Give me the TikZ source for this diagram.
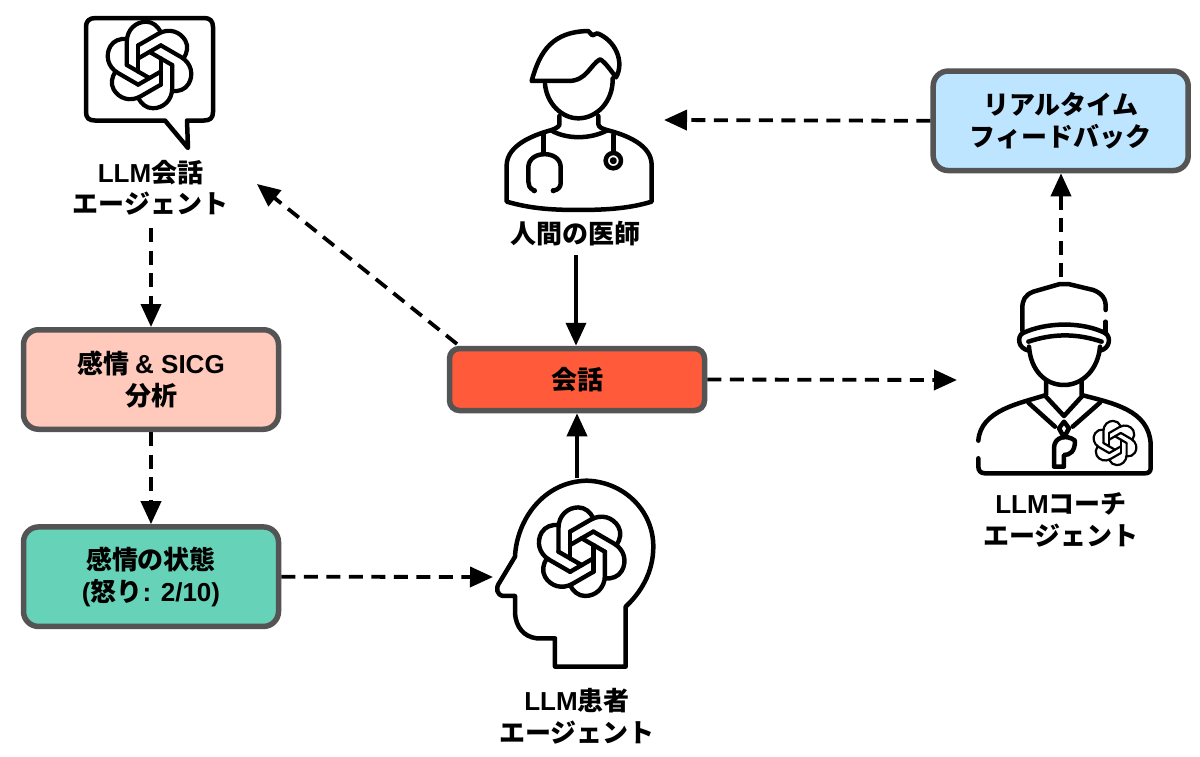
\documentclass[tikz,border=0pt]{standalone}
\usepackage{fontspec}
\setmainfont{Noto Sans CJK JP}
\newfontfamily\latfam{Liberation Sans}
\newcommand{\lt}[1]{{\latfam\bfseries #1}}
\usetikzlibrary{arrows.meta}
\definecolor{edgegray}{HTML}{545454}
\definecolor{bluebox}{HTML}{BEE5FF}
\definecolor{pinkbox}{HTML}{FFC9BC}
\definecolor{greenbox}{HTML}{66D2B7}
\definecolor{redbox}{HTML}{FF5B3B}
\tikzset{
  label text/.style={align=center,inner sep=0pt,font=\fontsize{26}{31.5}\selectfont\bfseries},
  flow box/.style={label text,draw=edgegray,line width=5.5pt,rounded corners=15pt,minimum width=255pt,minimum height=99.5pt},
  icon/.style={line width=4.5pt,line cap=round,line join=round,black},
  solid link/.style={line width=3.8pt,-{Triangle[length=23pt,width=20pt]}},
  dash link/.style={line width=3.8pt,dash pattern=on 14pt off 8.5pt,-{Triangle[length=23pt,width=20pt]}}
}
\newcommand{\knot}[4]{%
  \begin{scope}[shift={(#1,#2)},x=#3pt,y=#3pt]
  \foreach \k in {0,60,...,300}{
    \draw[line width=#4pt,line cap=round,line join=round,rotate=\k]
      (-0.54,0) -- (-0.54,0.55) .. controls (-0.54,0.85) and (-0.32,1.03) .. (-0.08,1.03)
      .. controls (0.08,1.03) and (0.2,0.92) .. (0.27,0.78);
    \draw[line width=#4pt,line cap=round,rotate=\k] (-0.27,0.468) -- (-0.27,-0.156);
  }
  \end{scope}}
\begin{document}
\begin{tikzpicture}[x=1pt,y=-1pt]
\useasboundingbox[fill=white] (0,0) rectangle (1200,756);

% speech bubble icon
\draw[icon] (96,18) -- (204,18) .. controls (210,18) and (213,21) .. (213,27) -- (213,112)
  .. controls (213,118) and (210,120.5) .. (204,120.5) -- (187,120.5) -- (188,148) -- (165,120.5) -- (95,120.5)
  .. controls (89,120.5) and (86,118) .. (86,112) -- (86,27) .. controls (86,21) and (89,18) .. (96,18) -- cycle;
\knot{149.5}{65}{42}{4.2}

% doctor icon
\begin{scope}[shift={(490,20)},x=0.3333pt,y=-0.3333pt]
\draw[icon] (125,183) .. controls (150,90) and (190,35) .. (295,33) -- (307,46) -- (322,40)
  .. controls (375,60) and (405,125) .. (378,172) .. controls (365,155) and (345,125) .. (330,118)
  .. controls (300,135) and (290,183) .. (235,183) -- cycle;
\draw[icon] (165,192) .. controls (170,250) and (215,295) .. (265,295) .. controls (320,295) and (370,245) .. (368,175);
\draw[icon] (208,288) -- (208,315) .. controls (205,322) and (195,326) .. (185,330)
  .. controls (130,345) and (52,375) .. (50,435) -- (50,545) .. controls (120,565) and (180,570) .. (265,570)
  .. controls (350,570) and (420,565) .. (485,545) -- (485,435) .. controls (485,375) and (410,345) .. (350,330)
  .. controls (335,326) and (325,320) .. (325,312) -- (325,288);
\draw[icon] (185,332) .. controls (230,358) and (300,358) .. (350,332);
\draw[icon] (160,342) -- (160,402);
\draw[icon] (133,512) .. controls (118,505) and (115,495) .. (115,485) -- (115,440) .. controls (118,390) and (210,390) .. (212,440)
  -- (212,490) .. controls (212,500) and (205,510) .. (190,512);
\draw[icon] (370,345) -- (370,398);
\draw[icon] (370,422) circle (23);
\draw[icon,line width=3pt] (370,422) circle (6);
\fill (133,512) circle (8);
\fill (190,512) circle (8);
\end{scope}

% coach icon
\begin{scope}[shift={(960,280)},x=0.3333pt,y=-0.3333pt]
\draw[icon] (437,90) .. controls (440,55) and (425,40) .. (400,30) -- (325,12) -- (300,12) -- (220,35)
  .. controls (195,45) and (187,60) .. (187,85) -- (187,152);
\draw[icon] (437,125) -- (437,160);
\draw[icon] (187,160) .. controls (260,125) and (370,125) .. (437,160);
\draw[icon] (205,185) .. controls (280,160) and (350,160) .. (425,185);
\draw[icon] (187,160) .. controls (172,170) and (172,205) .. (207,212);
\draw[icon] (437,160) .. controls (452,170) and (452,205) .. (420,212);
\draw[icon] (207,200) .. controls (212,270) and (255,315) .. (312,315) .. controls (370,315) and (415,265) .. (420,200);
\draw[icon] (258,305) -- (258,345) .. controls (180,370) and (62,390) .. (55,482);
\draw[icon] (365,305) -- (365,345) .. controls (460,370) and (565,390) .. (572,490) -- (572,565)
  .. controls (572,575) and (565,580) .. (555,580) -- (75,580) .. controls (62,580) and (55,572) .. (55,560) -- (55,535);
\draw[icon] (205,368) -- (285,440);
\draw[icon] (258,350) -- (312,408) -- (365,350);
\draw[icon] (420,368) -- (338,440);
\draw[icon] (312,425) -- (297,445) -- (312,472) -- (327,445) -- cycle;
\draw[icon] (345,482) .. controls (320,462) and (282,470) .. (282,505) -- (282,560) -- (312,560) -- (312,525)
  .. controls (330,525) and (345,515) .. (345,482) -- cycle;
\end{scope}
\knot{1115}{443}{21.5}{2.2}

% head icon
\begin{scope}[shift={(480,470)},x=0.3333pt,y=-0.3333pt]
\draw[icon] (225,590) -- (225,505) -- (170,505) .. controls (130,500) and (108,470) .. (105,430) -- (105,378) -- (70,378)
  .. controls (50,375) and (45,355) .. (60,335) -- (105,260) .. controls (110,150) and (190,35) .. (320,32)
  .. controls (430,35) and (520,120) .. (520,230) .. controls (520,310) and (480,370) .. (437,410) -- (437,590) -- cycle;
\end{scope}
\knot{581.7}{551.7}{43}{4.4}

% boxes
\node[flow box,fill=bluebox] (feedback) at (1060.7,120.8) {リアルタイム\\フィードバック};
\node[flow box,fill=pinkbox] (analysis) at (151,379.5) {感情 \lt{\symbol{38} SICG}\\分析};
\node[flow box,fill=greenbox] (state) at (151,576.7) {感情の状態\\\lt{(}怒り\lt{: 2/10)}};
\node[flow box,fill=redbox,minimum height=62pt,rounded corners=10pt] (talk) at (577,379.5) {会話};

% labels
\node[label text] (llmtalk) at (150.5,188) {\lt{LLM}会話\\エージェント};
\node[label text] (doctor) at (575,234) {人間の医師};
\node[label text] (coach) at (1061,520) {\lt{LLM}コーチ\\エージェント};
\node[label text] (patient) at (577,716) {\lt{LLM}患者\\エージェント};

% free ends
\coordinate (docfoot) at (576,255);
\coordinate (docside) at (664,120);
\coordinate (headtop) at (577,478);
\coordinate (coachtop) at (1061,277);
\coordinate (coachside) at (957,380);
\coordinate (talkcorner) at (457,344);
\coordinate (bubbleside) at (257,184);
\coordinate (llmfoot) at (151,228);
\coordinate (headside) at (493,577);

% connectors
\draw[solid link] (docfoot) -- (talk.north -| docfoot);
\draw[solid link] (headtop) -- (talk.south);
\draw[dash link] (feedback.west) -- (docside);
\draw[dash link] (coachtop) -- (feedback.south -| coachtop);
\draw[dash link] (talk.east) -- (coachside);
\draw[dash link] (talkcorner) -- (bubbleside);
\draw[dash link] (llmfoot) -- (analysis.north);
\draw[dash link] (analysis.south) -- (state.north);
\draw[dash link] (state.east) -- (headside);
\end{tikzpicture}
\end{document}
